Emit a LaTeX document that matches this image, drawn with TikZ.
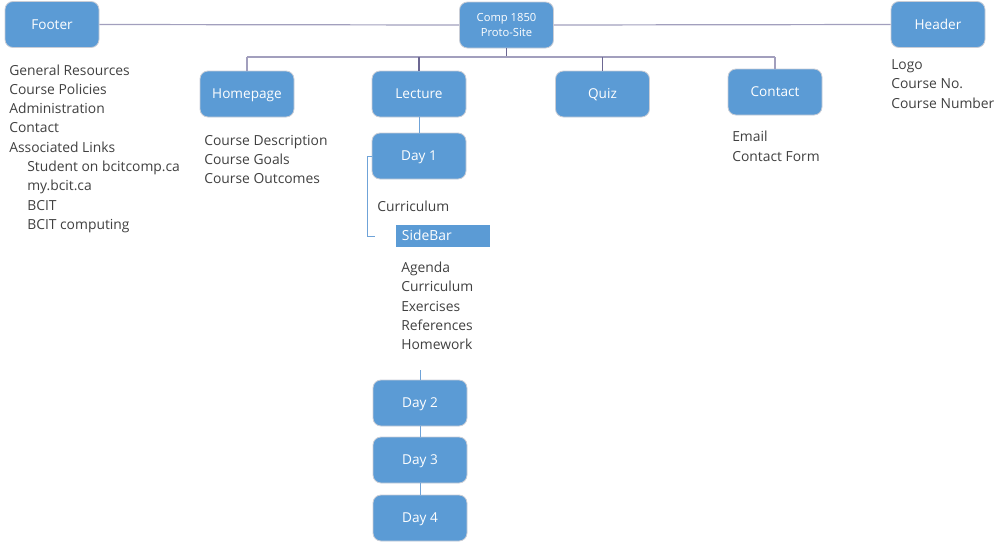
\documentclass[tikz,border=0pt]{standalone}
\usepackage{fontspec}
\setmainfont{Open Sans}
\definecolor{boxblue}{HTML}{5B9BD5}
\definecolor{boxedge}{HTML}{C9CDD6}
\definecolor{txt}{HTML}{404040}
\definecolor{lnlight}{HTML}{A29FBD}
\definecolor{lndark}{HTML}{6C6792}
\definecolor{lnblue}{HTML}{6FA3D8}
\tikzset{
  boxbase/.style={draw=boxedge, line width=0.6pt, fill=boxblue, rounded corners=6pt,
    minimum width=70.5pt, minimum height=34.5pt, inner sep=0pt, text=white},
  box/.style={boxbase, font=\fontsize{10.2}{12}\selectfont, text height=7.3pt, text depth=0pt},
  topbox/.style={boxbase, font=\fontsize{8.4}{11.5}\selectfont, align=center},
  item/.style={anchor=base west, inner sep=0pt, text=txt, font=\fontsize{10.4}{12}\selectfont},
  lnA/.style={draw=lnlight, line width=0.9pt},
  lnB/.style={draw=lndark, line width=0.8pt},
  lnC/.style={draw=lnblue, line width=0.7pt},
}
\begin{document}
\begin{tikzpicture}[x=0.75pt, y=-0.75pt]
\useasboundingbox (0,0) rectangle (1001,543);
% boxes
\node[box] (footer) at (52,24.5) {Footer};
\node[topbox] (comp) at (506.5,25) {Comp 1850\\Proto-Site};
\node[box] (header) at (938,24.5) {Header};
\node[box] (home) at (247,94) {Homepage};
\node[box] (lect) at (419,94) {Lecture};
\node[box] (quiz) at (602.5,94) {Quiz};
\node[box] (cont) at (775,92) {Contact};
\node[box] (d1) at (419,156) {Day 1};
\node[box] (d2) at (420,403) {Day 2};
\node[box] (d3) at (420,460) {Day 3};
\node[box] (d4) at (420,518) {Day 4};
\node[fill=boxblue, minimum width=70.5pt, minimum height=16.5pt, inner sep=0pt,
  text=white, font=\fontsize{10.4}{12}\selectfont, anchor=north west,
  text width=62pt, align=left] (side) at (396,224.5) {SideBar};
% connectors top
\draw[lnA] (footer.east) -- (comp.west);
\draw[lnA] (comp.east) -- (header.west);
\coordinate (busL) at (247,57);
\coordinate (busR) at (775,57);
\coordinate (busC) at (comp.south |- busL);
\draw[lnB] (comp.south) -- (busC);
\draw[lnA] (busL) -- (busR);
\draw[lnA] (home.north) -- (home.north |- busL);
\draw[lnB] (lect.north) -- (lect.north |- busL);
\draw[lnB] (quiz.north) -- (quiz.north |- busL);
\draw[lnA] (cont.north) -- (cont.north |- busR);
% lecture chain
\draw[lnC] (lect.south) -- (d1.north);
\coordinate (brT) at (367,156);
\coordinate (brB) at (367,236);
\coordinate (brBe) at (375,236);
\draw[lnC] (d1.west) -- (brT) -- (brB) -- (brBe);
\coordinate (d2top) at (420,370);
\draw[lnC] (d2top) -- (d2.north);
\draw[lnC] (d2.south) -- (d3.north);
\draw[lnC] (d3.south) -- (d4.north);
% footer list
\node[item] (f1) at (9,75) {General Resources};
\node[item] (f2) at (9,94.3) {Course Policies};
\node[item] (f3) at (9,113.6) {Administration};
\node[item] (f4) at (9,132.9) {Contact};
\node[item] (f5) at (9,152.2) {Associated Links};
\node[item] (f6) at (27,171.5) {Student on bcitcomp.ca};
\node[item] (f7) at (27,190.8) {my.bcit.ca};
\node[item] (f8) at (27,210.1) {BCIT};
\node[item] (f9) at (27,229.4) {BCIT computing};
% homepage list
\node[item] (h1) at (204,145) {Course Description};
\node[item] (h2) at (204,164.3) {Course Goals};
\node[item] (h3) at (204,183.6) {Course Outcomes};
% lecture
\node[item] (c0) at (377,211) {Curriculum};
\node[item] (s1) at (401,272.5) {Agenda};
\node[item] (s2) at (401,291.8) {Curriculum};
\node[item] (s3) at (401,311.1) {Exercises};
\node[item] (s4) at (401,330.4) {References};
\node[item] (s5) at (401,349.7) {Homework};
% contact list
\node[item] (k1) at (732,141.7) {Email};
\node[item] (k2) at (732,161.7) {Contact Form};
% header list
\node[item] (r1) at (891,69.5) {Logo};
\node[item] (r2) at (891,88.8) {Course No.};
\node[item] (r3) at (891,108.1) {Course Number};
\end{tikzpicture}
\end{document}
